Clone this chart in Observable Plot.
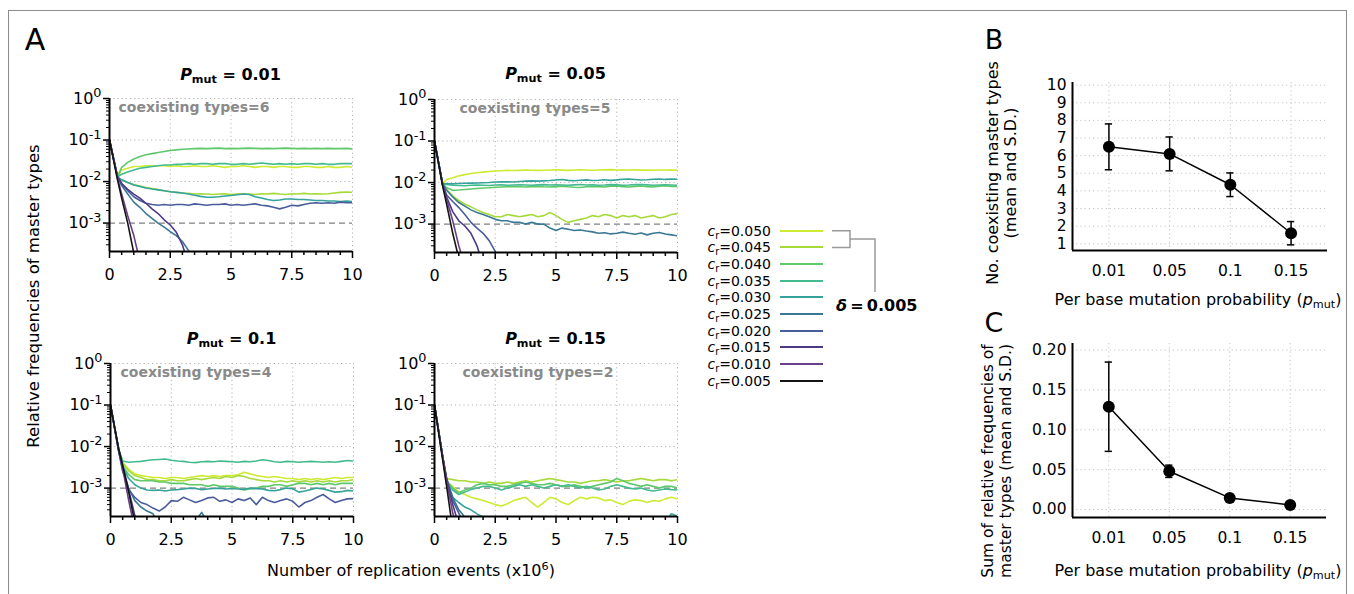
<!DOCTYPE html>
<html><head><meta charset="utf-8">
<script src="https://cdn.jsdelivr.net/npm/d3@7"></script>
<script src="https://cdn.jsdelivr.net/npm/@observablehq/plot@0.6"></script>
<style>
html,body{margin:0;padding:0;background:#fff;}
body{width:1354px;height:594px;overflow:hidden;position:relative;font-family:"DejaVu Sans",sans-serif;color:#000;}
.t{position:absolute;white-space:nowrap;line-height:1;}
sub{font-size:0.7em;vertical-align:-0.28em;line-height:0;}
sup{font-size:0.7em;vertical-align:0.55em;line-height:0;}
</style></head><body>
<div style="position:absolute;left:8px;top:10px;width:1337px;height:600px;border:1.5px solid #8c8c8c;"></div>
<script>
// ---------- data ----------
const crLabels = ["0.050","0.045","0.040","0.035","0.030","0.025","0.020","0.015","0.010","0.005"];
const crColors = ["#cdeb33","#a6da3a","#5fc86a","#43bb8e","#36a29c","#3a7893","#495c9c","#4d3a86","#6b3f87","#141414"];
const pmutLabels = ["0.01","0.05","0.1","0.15"];
const coexistCounts = [6,5,4,2];
// time grid (x10^6 replication events)
const T = [0,0.33,0.5,0.75,1,1.25,1.5,1.75,2,2.25,2.5,2.75,3,3.25,3.5,3.75,4,4.25,4.5,4.75,5,5.25,5.5,5.75,6,6.25,6.5,6.75,7,7.25,7.5,7.75,8,8.25,8.5,8.75,9,9.25,9.5,9.75,10];

// relative frequencies, one array per c_r (0.050 ... 0.005), aligned with T
const pmut001 = [
 [0.1,0.013,0.019,0.021,0.023,0.023,0.024,0.024,0.024,0.024,0.023,0.024,0.023,0.023,0.024,0.023,0.023,0.024,0.023,0.022,0.023,0.023,0.024,0.023,0.022,0.023,0.023,0.022,0.023,0.023,0.022,0.022,0.023,0.023,0.022,0.022,0.023,0.022,0.022,0.023,0.022],
 [0.1,0.013,0.011,0.0095,0.0085,0.0078,0.0072,0.0068,0.0064,0.006,0.0057,0.0055,0.0053,0.0052,0.005,0.0051,0.005,0.0049,0.005,0.0051,0.0049,0.005,0.0051,0.005,0.0049,0.0051,0.005,0.0052,0.005,0.0049,0.0051,0.005,0.0052,0.005,0.0051,0.005,0.0051,0.0053,0.0055,0.0056,0.0055],
 [0.1,0.013,0.022,0.029,0.035,0.04,0.044,0.047,0.05,0.053,0.056,0.058,0.06,0.061,0.062,0.063,0.062,0.063,0.064,0.062,0.063,0.062,0.063,0.064,0.063,0.062,0.063,0.062,0.063,0.064,0.063,0.062,0.063,0.062,0.063,0.062,0.063,0.062,0.062,0.063,0.061],
 [0.1,0.013,0.015,0.017,0.019,0.021,0.022,0.023,0.024,0.025,0.025,0.026,0.026,0.027,0.026,0.027,0.027,0.026,0.027,0.027,0.026,0.026,0.027,0.026,0.027,0.028,0.027,0.026,0.027,0.026,0.027,0.026,0.027,0.027,0.026,0.027,0.026,0.026,0.027,0.027,0.027],
 [0.1,0.013,0.011,0.0095,0.0083,0.0076,0.007,0.0066,0.0063,0.006,0.0057,0.0055,0.0053,0.005,0.0047,0.0044,0.0042,0.0042,0.0043,0.0045,0.0046,0.0048,0.005,0.0049,0.0043,0.004,0.0037,0.0035,0.0036,0.0038,0.0038,0.0037,0.0037,0.0036,0.0035,0.0035,0.0034,0.0034,0.0033,0.0034,0.0033],
 [0.1,0.013,0.008,0.005,0.0032,0.0024,0.0017,0.0013,0.001,0.0008,0.00062,0.0005,0.00036,0.00022,0.0001],
 [0.1,0.013,0.009,0.006,0.0043,0.0035,0.003,0.0028,0.0027,0.0028,0.0027,0.0028,0.0028,0.0027,0.0029,0.0028,0.0027,0.0028,0.0028,0.0029,0.0027,0.0028,0.0027,0.0028,0.0029,0.0027,0.0026,0.0024,0.0022,0.0024,0.0027,0.0026,0.0028,0.003,0.0031,0.003,0.0031,0.003,0.0032,0.0031,0.0031],
 [0.1,0.013,0.009,0.0065,0.005,0.004,0.003,0.0022,0.0017,0.0012,0.0009,0.0006,0.0003,0.0001],
 [0.1,0.012,0.005,0.0015,0.0005,0.00012],
 [0.1,0.011,0.004,0.001,0.00019,0.00008]
];
const pmut005 = [
 [0.1,0.0095,0.0118,0.013,0.0145,0.0155,0.0165,0.0172,0.0178,0.0185,0.019,0.0193,0.0196,0.0195,0.0197,0.02,0.0198,0.0196,0.0198,0.02,0.0202,0.0199,0.0197,0.02,0.0203,0.0201,0.0198,0.02,0.0202,0.0205,0.0201,0.0199,0.02,0.0202,0.0199,0.02,0.0198,0.02,0.0201,0.0199,0.0198],
 [0.1,0.0095,0.0068,0.0048,0.0037,0.003,0.0026,0.0022,0.0019,0.0017,0.0015,0.0015,0.0017,0.0016,0.0015,0.0016,0.0017,0.0015,0.0016,0.0019,0.0016,0.0013,0.0011,0.0012,0.0013,0.0014,0.0016,0.0015,0.0017,0.0016,0.0014,0.0016,0.0015,0.0016,0.0014,0.0015,0.0016,0.0014,0.0015,0.0017,0.0018],
 [0.1,0.0095,0.0075,0.0065,0.0066,0.0068,0.007,0.0072,0.0074,0.0075,0.0077,0.0078,0.0079,0.008,0.0079,0.0078,0.008,0.0081,0.0079,0.0078,0.008,0.0082,0.0079,0.0077,0.0076,0.0079,0.0081,0.008,0.0078,0.0082,0.0083,0.008,0.0078,0.0081,0.0083,0.008,0.0078,0.0082,0.0084,0.0081,0.008],
 [0.1,0.0095,0.009,0.0086,0.0085,0.0084,0.0086,0.0087,0.0086,0.0085,0.0087,0.0088,0.0086,0.0087,0.0088,0.0087,0.0086,0.0088,0.0089,0.0087,0.0088,0.0087,0.0086,0.0088,0.009,0.0087,0.0088,0.0086,0.0087,0.0089,0.0088,0.0086,0.0087,0.0089,0.009,0.0088,0.0086,0.0087,0.0088,0.0087,0.0086],
 [0.1,0.0095,0.0094,0.0093,0.0095,0.0096,0.0097,0.0098,0.0099,0.01,0.0103,0.0104,0.0105,0.0103,0.0106,0.0108,0.011,0.0108,0.011,0.0112,0.0115,0.0118,0.0113,0.0111,0.0114,0.0116,0.0112,0.0114,0.0117,0.0113,0.0116,0.012,0.0121,0.0118,0.0115,0.0117,0.012,0.0122,0.0119,0.0121,0.012],
 [0.1,0.0095,0.0065,0.0045,0.0033,0.0027,0.0022,0.0019,0.0017,0.0015,0.0013,0.0012,0.0012,0.0011,0.0011,0.001,0.0011,0.001,0.001,0.0008,0.0007,0.0008,0.00075,0.0007,0.00072,0.00068,0.00065,0.0006,0.00062,0.00058,0.0006,0.00064,0.0006,0.00057,0.00061,0.00055,0.0006,0.00063,0.00058,0.00055,0.00052],
 [0.1,0.0095,0.005,0.0035,0.0025,0.0017,0.0011,0.0008,0.0006,0.0004,0.00022,0.0001],
 [0.1,0.009,0.0045,0.002,0.0012,0.0009,0.0006,0.0003,0.0001],
 [0.1,0.009,0.004,0.0012,0.0003,0.0001],
 [0.1,0.0085,0.003,0.0006,0.00015]
];
const pmut010 = [
 [0.1,0.009,0.0042,0.0028,0.0022,0.002,0.0019,0.0018,0.0018,0.0017,0.0018,0.0018,0.0017,0.0018,0.0019,0.002,0.0019,0.002,0.0019,0.002,0.002,0.0021,0.0024,0.0022,0.002,0.0019,0.0018,0.0019,0.0018,0.0017,0.0017,0.0016,0.0017,0.0016,0.0017,0.0016,0.0017,0.0018,0.0017,0.0018,0.0018],
 [0.1,0.009,0.004,0.0026,0.002,0.0018,0.0016,0.0016,0.0015,0.0015,0.0016,0.0015,0.0015,0.0016,0.0017,0.0016,0.0017,0.0018,0.0017,0.0019,0.0018,0.002,0.0019,0.0017,0.0016,0.0015,0.0015,0.0014,0.0015,0.0014,0.0015,0.0014,0.0015,0.0014,0.0015,0.0014,0.0015,0.0014,0.0015,0.0015,0.0016],
 [0.1,0.009,0.0035,0.0021,0.0016,0.0015,0.0015,0.0015,0.0014,0.0014,0.0013,0.0013,0.0013,0.0012,0.0012,0.0012,0.0011,0.0012,0.0011,0.0011,0.0011,0.001,0.0009,0.00095,0.001,0.0011,0.0011,0.0012,0.0012,0.0011,0.0012,0.0013,0.0013,0.0012,0.0013,0.0012,0.0013,0.0012,0.0013,0.0013,0.0013],
 [0.1,0.009,0.0045,0.0042,0.0043,0.0044,0.0046,0.0048,0.0049,0.005,0.0047,0.0045,0.0044,0.0042,0.0041,0.0043,0.0044,0.0043,0.0045,0.0044,0.0043,0.0042,0.0044,0.0043,0.0045,0.0048,0.0046,0.0043,0.0042,0.0044,0.0043,0.0042,0.0043,0.0044,0.0043,0.0042,0.0043,0.0042,0.0044,0.0046,0.0045],
 [0.1,0.009,0.0032,0.0017,0.0012,0.001,0.0009,0.00088,0.0009,0.00085,0.0009,0.00092,0.00095,0.001,0.00098,0.00092,0.00095,0.00098,0.001,0.00095,0.00098,0.00095,0.00093,0.001,0.00097,0.00095,0.00088,0.00086,0.00092,0.001,0.00096,0.0008,0.00085,0.00092,0.001,0.00095,0.00088,0.0008,0.00082,0.00088,0.00085],
 [0.1,0.008,0.0025,0.001,0.0005,0.00035,0.00028,0.00024,0.00012,null,null,null,null,null,0.00016,0.00026,0.00015],
 [0.1,0.0085,0.0028,0.0009,0.0006,0.00045,0.0004,0.00033,0.00028,0.00035,0.0005,0.00048,0.0006,0.00052,0.00045,0.0005,0.00058,0.0006,0.00048,0.00052,0.00045,0.00055,0.0005,0.00058,0.0004,0.0006,0.0005,0.00045,0.0005,0.00055,0.00048,0.00035,0.00045,0.0005,0.0006,0.0007,0.00055,0.00045,0.0005,0.00055,0.00056],
 [0.1,0.009,0.0035,0.0009,0.00022,0.0001],
 [0.1,0.008,0.003,0.0005,0.0001],
 [0.1,0.009,0.0035,0.0008,0.00015]
];
const pmut015 = [
 [0.1,0.006,0.0014,0.0011,0.0008,0.0007,0.0006,0.00055,0.0005,0.00045,0.0004,0.00037,0.00042,0.0005,0.00055,0.0006,0.00045,0.00035,0.00045,0.0006,0.00055,0.00045,0.0004,0.0005,0.0006,0.00055,0.0006,0.00058,0.0005,0.00052,0.00045,0.0004,0.00048,0.00052,0.0005,0.00045,0.0005,0.00048,0.00055,0.0006,0.00055],
 [0.1,0.006,0.0017,0.0016,0.0015,0.0015,0.0014,0.0014,0.0013,0.0014,0.0013,0.0013,0.0014,0.0013,0.0014,0.0015,0.0014,0.0015,0.0016,0.0017,0.0016,0.0015,0.0014,0.0014,0.0013,0.0014,0.0015,0.0015,0.0016,0.0015,0.0014,0.0015,0.0015,0.0016,0.0017,0.0016,0.0015,0.0016,0.0016,0.0015,0.0016],
 [0.1,0.006,0.0015,0.001,0.00077,0.0009,0.001,0.0012,0.0013,0.0012,0.0012,0.0011,0.0011,0.0012,0.0013,0.0014,0.0013,0.0012,0.0012,0.0013,0.0012,0.0011,0.0011,0.0012,0.0011,0.001,0.0011,0.0012,0.0013,0.0014,0.0017,0.0015,0.0013,0.0012,0.0011,0.0012,0.0011,0.001,0.0011,0.0011,0.001],
 [0.1,0.006,0.0014,0.0009,0.0007,0.0008,0.00093,0.001,0.0011,0.0011,0.001,0.0009,0.001,0.0011,0.0012,0.0011,0.0012,0.0011,0.001,0.0011,0.0012,0.0011,0.0012,0.0011,0.001,0.0011,0.001,0.0009,0.00095,0.0011,0.0012,0.0011,0.001,0.00095,0.001,0.0009,0.00085,0.0009,0.00095,0.00092,0.0009],
 [0.1,0.006,0.0012,0.0006,0.00045,0.00035,0.0003,0.00024,0.0002,0.0001,null,null,null,null,null,null,null,null,null,null,null,null,null,null,null,null,null,null,null,null,null,null,null,null,null,null,null,null,0.00015,0.00024,0.00021],
 [0.1,0.006,0.0017,0.0006,0.0003,0.0002,0.0001],
 [0.1,0.006,0.0017,0.0005,0.00025,0.00012],
 [0.1,0.006,0.0016,0.0004,0.00013],
 [0.1,0.006,0.0015,0.00025,0.00008],
 [0.1,0.005,0.0011,0.0001]
];
// panel B: number of coexisting master types (mean, S.D.)
const coexMean = [6.5, 6.1, 4.35, 1.6];
const coexSD   = [1.3, 0.96, 0.67, 0.66];
// panel C: sum of relative frequencies of master types (mean, S.D.)
const sumMean = [0.129, 0.048, 0.0146, 0.0058];
const sumSD   = [0.056, 0.0077, 0.0015, 0.0008];

// ---------- helpers ----------
const FONT = "DejaVu Sans";
function mount(node, left, top) {
  const d = document.createElement("div");
  d.style.cssText = `position:absolute;left:${left}px;top:${top}px;width:${node.getAttribute("width")}px;`;
  d.appendChild(node);
  document.body.appendChild(d);
}
function label(html, x, y, o = {}) {
  const d = document.createElement("div");
  d.className = "t";
  d.innerHTML = html;
  const tr = o.rotate ? "translate(-50%,-50%) rotate(-90deg)" :
    o.anchor === "start" ? "translate(0,-50%)" : o.anchor === "end" ? "translate(-100%,-50%)" : "translate(-50%,-50%)";
  d.style.cssText += `left:${x}px;top:${y}px;transform:${tr};font-size:${o.size||16}px;font-weight:${o.weight||"normal"};color:${o.color||"#000"};text-align:center;line-height:${o.lh||1};`;
  document.body.appendChild(d);
}
function superscripts(svg) {
  d3.select(svg).selectAll("text").each(function() {
    const m = this.textContent.match(/^10\^(-?\d+)$/);
    if (m) {
      this.textContent = "10";
      const ts = document.createElementNS("http://www.w3.org/2000/svg", "tspan");
      ts.setAttribute("dy", "-0.5em");
      ts.setAttribute("font-size", "0.8em");
      ts.textContent = m[1];
      this.appendChild(ts);
    }
  });
}

// ---------- panel A ----------
const YMIN = 2.07e-4;
const minorX = []; for (let v = 0.5; v < 10; v += 0.5) if (v % 2.5 !== 0) minorX.push(v);
const minorY = []; for (let e = -4; e <= -1; e++) for (let k = 2; k <= 9; k++) { const v = k * Math.pow(10, e); if (v >= YMIN && v < 1) minorY.push(v); }
const grid = {stroke: "#b4b4b4", strokeOpacity: 1, strokeDasharray: "1.2,3", strokeWidth: 1};

function panelA(series, coexist, dx) {
  const rows = [];
  series.forEach((arr, i) => T.forEach((t, j) => {
    const v = j < arr.length && arr[j] != null ? arr[j] : NaN;
    rows.push({t, v, cr: crLabels[i]});
  }));
  const ML = 60, MT = 10, MR = 15, MB = 35, PW = 243, PH = 153;
  const svg = Plot.plot({
    width: ML + PW + MR, height: MT + PH + MB,
    marginLeft: ML, marginTop: MT, marginRight: MR, marginBottom: MB,
    style: {fontFamily: FONT, fontSize: "16px", color: "#000", background: "transparent", overflow: "visible"},
    x: {domain: [0, 10]},
    y: {type: "log", domain: [YMIN, 1]},
    color: {domain: crLabels, range: crColors},
    marks: [
      Plot.gridX([2.5, 5, 7.5, 10], grid),
      Plot.gridY([1, 0.1, 0.01], grid),
      Plot.ruleY([0.001], {stroke: "#808080", strokeDasharray: "6,4", strokeWidth: 1.4}),
      Plot.lineY(rows, {x: "t", y: "v", z: "cr", stroke: "cr", strokeWidth: 1.6, clip: true}),
      Plot.text([`coexisting types=${coexist}`], {text: d => d, frameAnchor: "top-left", dx, dy: 9, lineAnchor: "middle", textAnchor: "start", fill: "#8a8a8a", fontWeight: "bold", fontSize: 14}),
      Plot.axisX([0, 2.5, 5, 7.5, 10], {tickSize: 7, tickPadding: 10, strokeWidth: 1.5, tickFormat: d => String(d), label: null}),
      Plot.axisX(minorX, {tickSize: 4, strokeWidth: 1.5, tickFormat: () => "", label: null}),
      Plot.axisY([1, 0.1, 0.01, 0.001], {tickSize: 6, tickPadding: 2, strokeWidth: 1.5, tickFormat: d => "10^" + Math.round(Math.log10(d)), label: null}),
      Plot.axisY(minorY, {tickSize: 3, strokeWidth: 1, tickFormat: () => "", label: null}),
      Plot.ruleX([0], {strokeWidth: 2}),
      Plot.ruleY([YMIN], {strokeWidth: 2})
    ]
  });
  superscripts(svg);
  return svg;
}

const seriesA = [pmut001, pmut005, pmut010, pmut015];
const layoutA = [
  {left: 49, top: 88, cx: 230.5, ty: 75, dx: 9},
  {left: 374, top: 89, cx: 555.5, ty: 74, dx: 25},
  {left: 50, top: 353, cx: 231.5, ty: 339, dx: 10},
  {left: 374, top: 353, cx: 555.5, ty: 339, dx: 28}
];
seriesA.forEach((s, i) => {
  const L = layoutA[i];
  mount(panelA(s, coexistCounts[i], L.dx), L.left, L.top);
  label(`<b><i>P</i><sub>mut</sub> = ${pmutLabels[i]}</b>`, L.cx, L.ty, {size: 16});
});

label("A", 35, 40, {size: 30});
label("Relative frequencies of master types", 34, 296, {rotate: true, size: 16.5});
label("Number of replication events (x10<sup>6</sup>)", 411, 571, {size: 16});

// legend
crLabels.forEach((c, i) => {
  const y = 230.7 + i * 16.67;
  label(`<i>c</i><sub>r</sub>=${c}`, 771, y, {anchor: "end", size: 14});
  const ln = document.createElement("div");
  ln.style.cssText = `position:absolute;left:780px;top:${y - 1}px;width:43px;height:2px;background:${crColors[i]};`;
  document.body.appendChild(ln);
});
const br = document.createElementNS("http://www.w3.org/2000/svg", "svg");
br.setAttribute("width", 1354); br.setAttribute("height", 594);
br.style.cssText = "position:absolute;left:0;top:0;pointer-events:none;";
br.innerHTML = `<path d="M832,230.7H850V247.4H832M850,239H875V292" fill="none" stroke="#9a9a9a" stroke-width="1.5"/>`;
document.body.appendChild(br);
label(`<b><i>δ</i>\u2009=\u20090.005</b>`, 836, 306, {anchor: "start", size: 16});

// ---------- panels B and C ----------
function panelBC(means, sds, yDomain, yTicks, fmt, ML, PW, PH) {
  const idx = means.map((_, i) => i);
  const MT = 10, MR = 10, MB = 30;
  const g = {stroke: "#c4c4c4", strokeOpacity: 1, strokeDasharray: "1.2,3", strokeWidth: 1};
  return Plot.plot({
    width: ML + PW + MR, height: MT + PH + MB,
    marginLeft: ML, marginTop: MT, marginRight: MR, marginBottom: MB,
    style: {fontFamily: FONT, fontSize: "15.5px", color: "#000", background: "transparent", overflow: "visible"},
    x: {domain: [-0.6, 3.6]},
    y: {domain: yDomain},
    marks: [
      Plot.gridX(idx, g),
      Plot.gridY(yTicks, g),
      Plot.ruleX(idx, {x: i => i, y1: i => means[i] - sds[i], y2: i => means[i] + sds[i], strokeWidth: 1.5}),
      Plot.ruleY(idx, {y: i => means[i] + sds[i], x1: i => i - 0.06, x2: i => i + 0.06, strokeWidth: 1.5}),
      Plot.ruleY(idx, {y: i => means[i] - sds[i], x1: i => i - 0.06, x2: i => i + 0.06, strokeWidth: 1.5}),
      Plot.line(idx, {x: i => i, y: i => means[i], strokeWidth: 1.5}),
      Plot.dot(idx, {x: i => i, y: i => means[i], r: 6, fill: "#000", stroke: "none"}),
      Plot.axisX(idx, {tickSize: 0, tickPadding: 14, tickFormat: i => pmutLabels[i], label: null}),
      Plot.axisY(yTicks, {tickSize: 0, tickPadding: 6, tickFormat: fmt, label: null}),
      Plot.ruleX([-0.6], {strokeWidth: 2}),
      Plot.ruleY([yDomain[0]], {strokeWidth: 2})
    ]
  });
}
mount(panelBC(coexMean, coexSD, [0.62, 10.15], [1,2,3,4,5,6,7,8,9,10], d => String(d), 50, 255, 168), 1022, 72);
mount(panelBC(sumMean, sumSD, [-0.01, 0.2083], [0, 0.05, 0.1, 0.15, 0.2], d3.format(".2f"), 60, 254, 174), 1012, 333);

label("B", 994, 39, {size: 27});
label("C", 994, 322, {size: 27});
label("No. coexisting master types<br>(mean and S.D.)", 1002, 173, {rotate: true, size: 16, lh: 1.15});
label("Sum of relative frequencies of<br>master types (mean and S.D.)", 998, 461, {rotate: true, size: 15.5, lh: 1.15});
label("Per base mutation probability (<i>p</i><sub>mut</sub>)", 1198, 300, {size: 16});
label("Per base mutation probability (<i>p</i><sub>mut</sub>)", 1198, 571, {size: 16});
</script>
</body></html>
